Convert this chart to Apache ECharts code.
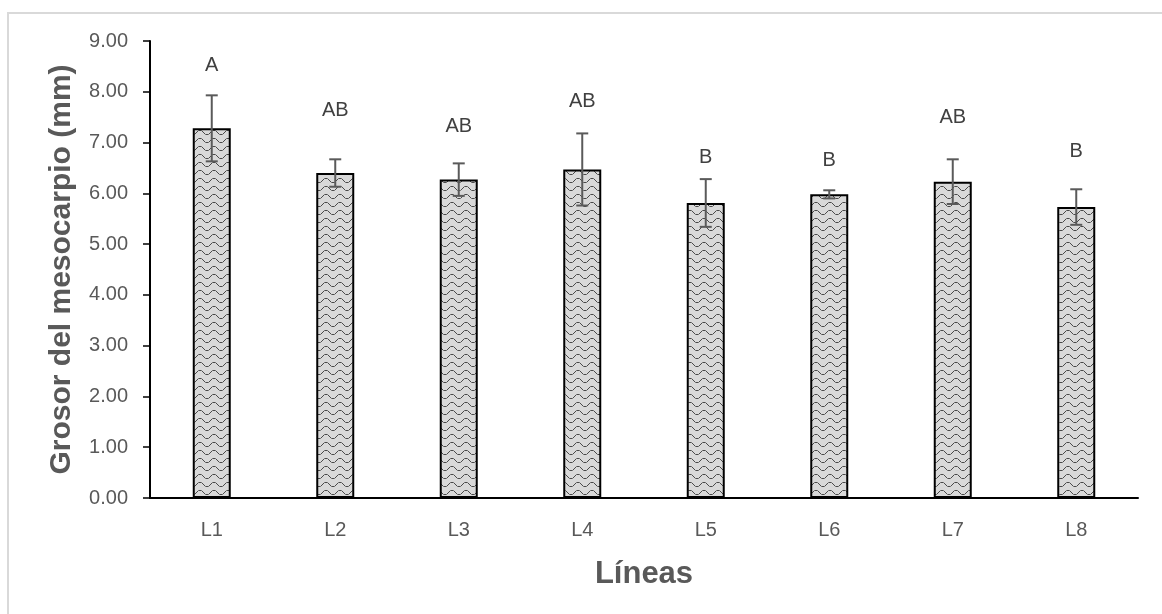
<!DOCTYPE html>
<html>
<head>
<meta charset="utf-8">
<script src="https://cdn.jsdelivr.net/npm/echarts@6/dist/echarts.min.js"></script>
<style>
  html, body { margin: 0; padding: 0; background: #fff; }
  #frame { position: absolute; left: 7px; top: 12px; width: 1170px; height: 620px; border: 2px solid #d9d9d9; box-sizing: border-box; }
  #main { position: absolute; left: 0; top: 0; width: 1162px; height: 614px; }
</style>
</head>
<body>
<div id="frame"></div>
<div id="main"></div>
<script>
// datos
var lineas = ['L1', 'L2', 'L3', 'L4', 'L5', 'L6', 'L7', 'L8'];
var grosor = [7.28, 6.40, 6.27, 6.47, 5.81, 5.98, 6.23, 5.73];
var desv = [0.65, 0.27, 0.32, 0.71, 0.47, 0.08, 0.44, 0.35];
var letras = ['A', 'AB', 'AB', 'AB', 'B', 'B', 'AB', 'B'];
var alturaLetra = [8.52, 7.64, 7.31, 7.80, 6.71, 6.65, 7.50, 6.82];
var yTicks = [0, 1, 2, 3, 4, 5, 6, 7, 8, 9];

// trama tipo "onda" para las barras
function makePattern() {
  var c = document.createElement('canvas');
  c.width = 14;
  c.height = 8;
  var ctx = c.getContext('2d');
  ctx.fillStyle = '#d9d9d9';
  ctx.fillRect(0, 0, 14, 8);
  ctx.fillStyle = '#4a4a4a';
  // arco arriba y arco abajo, trazo punteado
  var pts = [[0, 4], [1, 3], [3, 2], [4, 2], [6, 3], [7, 4], [8, 5], [10, 6], [11, 6], [13, 5]];
  pts.forEach(function (p) { ctx.fillRect(p[0], p[1], 1, 1); });
  ctx.fillStyle = '#7a7a7a';
  [[2, 2], [5, 2], [9, 6], [12, 6]].forEach(function (p) { ctx.fillRect(p[0], p[1], 1, 1); });
  return c;
}

var chart = echarts.init(document.getElementById('main'), null, { renderer: 'canvas' });

var option = {
  animation: false,
  backgroundColor: 'transparent',
  grid: { left: 150, right: 24, top: 41, bottom: 116 },
  xAxis: {
    type: 'category',
    data: lineas,
    name: 'Líneas',
    nameLocation: 'middle',
    nameGap: 61,
    nameTextStyle: { fontFamily: 'Liberation Sans', fontSize: 31, fontWeight: 'bold', color: '#595959' },
    axisLine: { lineStyle: { color: '#000', width: 2 } },
    axisTick: { show: false },
    axisLabel: { margin: 22, fontFamily: 'Liberation Sans', fontSize: 20, color: '#595959' }
  },
  yAxis: {
    type: 'value',
    min: yTicks[0],
    max: yTicks[yTicks.length - 1],
    interval: 1,
    name: 'Grosor del mesocarpio (mm)',
    nameLocation: 'middle',
    nameGap: 73,
    nameTextStyle: { fontFamily: 'Liberation Sans', fontSize: 30, fontWeight: 'bold', color: '#595959' },
    axisLine: { show: true, lineStyle: { color: '#000', width: 2 } },
    axisTick: { show: true, length: 7, lineStyle: { color: '#000', width: 1.5 } },
    splitLine: { show: false },
    axisLabel: {
      margin: 22,
      fontFamily: 'Liberation Sans',
      fontSize: 20,
      color: '#595959',
      formatter: function (v) { return v.toFixed(2); }
    }
  },
  series: [
    {
      type: 'bar',
      data: grosor,
      barWidth: 38,
      itemStyle: {
        color: { image: makePattern(), repeat: 'repeat' },
        borderColor: '#000',
        borderWidth: 2
      }
    },
    {
      type: 'custom',
      data: grosor.map(function (v, i) { return [i, v - desv[i], v + desv[i]]; }),
      renderItem: function (params, api) {
        var x = api.coord([api.value(0), 0])[0];
        var lo = api.coord([api.value(0), api.value(1)])[1];
        var hi = api.coord([api.value(0), api.value(2)])[1];
        var st = { stroke: '#5a5a5a', lineWidth: 2 };
        return {
          type: 'group',
          children: [
            { type: 'line', shape: { x1: x, y1: lo, x2: x, y2: hi }, style: st },
            { type: 'line', shape: { x1: x - 6, y1: hi, x2: x + 6, y2: hi }, style: st },
            { type: 'line', shape: { x1: x - 6, y1: lo, x2: x + 6, y2: lo }, style: st }
          ]
        };
      },
      z: 5
    },
    {
      type: 'custom',
      data: alturaLetra.map(function (v, i) { return [i, v]; }),
      renderItem: function (params, api) {
        var p = api.coord([api.value(0), api.value(1)]);
        return {
          type: 'text',
          x: p[0],
          y: p[1],
          style: {
            text: letras[params.dataIndex],
            fill: '#404040',
            font: '20px "Liberation Sans"',
            align: 'center',
            verticalAlign: 'middle'
          }
        };
      },
      z: 6
    }
  ]
};

chart.setOption(option);
</script>
</body>
</html>
